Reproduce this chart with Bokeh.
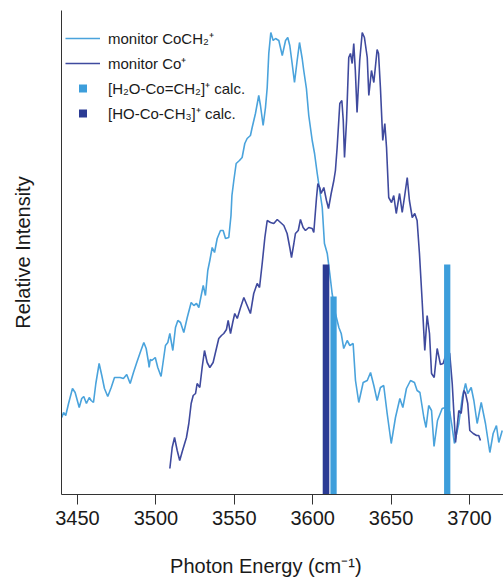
import numpy as np
from bokeh.plotting import figure
from bokeh.models import Range1d, FixedTicker, Legend, LegendItem
from bokeh.embed import file_html
from bokeh.resources import INLINE

# ---- data ----
light_x = [3440.0, 3441.1, 3442.5, 3444.3, 3446.8, 3448.5, 3451.1, 3452.7, 3454.0, 3455.7,
           3457.5, 3458.7, 3460.2, 3461.7, 3463.8, 3465.5, 3467.2, 3469.3, 3471.5, 3473.6,
           3477.2, 3479.3, 3481.4, 3483.6, 3485.7, 3487.8, 3490.0, 3492.3, 3493.8, 3495.3,
           3495.7, 3496.4, 3497.4, 3499.6, 3501.2, 3503.3, 3506.1, 3507.6, 3508.9, 3510.8,
           3512.5, 3514.0, 3515.7, 3517.8, 3520.0, 3522.5, 3524.2, 3525.9, 3527.4, 3528.9,
           3530.2, 3531.6, 3533.1, 3534.4, 3535.9, 3537.4, 3539.1, 3541.2, 3542.9, 3544.4,
           3546.5, 3547.9, 3548.5, 3549.7, 3551.2, 3553.3, 3555.0, 3556.7, 3558.2, 3560.3,
           3561.4, 3563.5, 3565.6, 3566.7, 3568.4, 3569.9, 3571.0, 3572.0, 3573.3, 3574.8,
           3576.3, 3578.4, 3580.6, 3582.7, 3584.1, 3585.4, 3586.9, 3588.4, 3590.1, 3591.6,
           3593.3, 3594.3, 3596.0, 3597.5, 3599.7, 3601.2, 3602.9, 3604.5, 3606.1, 3607.5,
           3609.3, 3610.9, 3612.4, 3614.5, 3616.7, 3618.2, 3619.8, 3622.0, 3623.7, 3625.8,
           3627.3, 3629.4, 3632.2, 3634.8, 3636.9, 3639.0, 3641.1, 3643.2, 3645.3, 3647.5,
           3650.1, 3652.8, 3655.6, 3657.5, 3659.8, 3662.4, 3664.9, 3666.6, 3668.4, 3670.9,
           3672.3, 3674.0, 3675.8, 3677.4, 3679.6, 3682.6, 3684.7, 3687.4, 3688.8, 3690.4,
           3693.2, 3695.4, 3697.5, 3698.9, 3701.1, 3702.8, 3704.9, 3707.5, 3710.2, 3713.0,
           3715.1, 3717.2, 3718.7, 3720.9]
light_y = [77, 82, 79, 91, 106, 102, 87, 96, 98, 91,
           97, 94, 92, 111, 131, 119, 106, 98, 107, 117,
           117, 116, 120, 111, 122, 132, 142, 152, 146, 132,
           127, 135, 134, 137, 127, 118, 149, 152, 161, 144,
           167, 174, 172, 162, 177, 192, 189, 191, 187, 199,
           209, 199, 224, 234, 247, 242, 256, 264, 264, 256,
           257, 279, 299, 314, 331, 334, 337, 351, 356, 359,
           367, 381, 399, 389, 369, 387, 407, 441, 462, 454,
           456, 454, 439, 454, 457, 449, 431, 412, 434, 452,
           436, 424, 406, 379, 354, 341, 321, 304, 287, 251,
           241, 221, 201, 181, 167, 161, 146, 154, 149, 151,
           114, 92, 112, 114, 122, 109, 94, 107, 109, 81,
           51, 77, 96, 87, 106, 114, 112, 104, 102, 77,
           67, 89, 84, 48, 74, 86, 87, 83, 69, 51,
           71, 97, 111, 101, 107, 94, 71, 92, 71, 42,
           61, 69, 52, 64]

dark_x = [3508.9, 3510.4, 3511.9, 3513.6, 3515.2, 3517.0, 3519.5, 3521.0, 3522.5, 3523.8,
          3525.3, 3526.3, 3528.0, 3529.5, 3531.0, 3532.7, 3534.4, 3536.5, 3538.0, 3540.1,
          3541.8, 3543.3, 3545.0, 3546.1, 3547.6, 3549.0, 3550.3, 3551.9, 3554.0, 3556.1,
          3558.2, 3560.3, 3562.4, 3564.6, 3566.1, 3567.8, 3569.5, 3571.0, 3573.1, 3575.2,
          3577.4, 3579.5, 3581.6, 3583.7, 3585.4, 3586.5, 3588.0, 3589.0, 3590.8, 3592.2,
          3593.9, 3595.4, 3597.5, 3599.7, 3600.7, 3602.4, 3603.3, 3604.5, 3605.4, 3607.1,
          3608.8, 3610.1, 3611.8, 3613.5, 3614.5, 3615.6, 3617.3, 3618.6, 3619.5, 3620.3,
          3621.6, 3623.0, 3624.1, 3625.2, 3626.2, 3627.2, 3628.3, 3630.0, 3631.6, 3633.0,
          3634.8, 3635.8, 3637.5, 3639.0, 3641.1, 3642.0, 3643.2, 3644.7, 3646.0, 3647.1,
          3648.5, 3650.3, 3651.7, 3653.3, 3655.4, 3657.1, 3658.7, 3660.3, 3661.7, 3663.5,
          3665.1, 3666.6, 3668.1, 3669.8, 3671.5, 3673.0, 3674.5, 3675.8, 3677.5, 3679.4,
          3681.5, 3683.2, 3685.8, 3687.4, 3689.0, 3691.1, 3693.2, 3694.7, 3696.4, 3697.5,
          3698.9, 3700.2, 3702.4, 3704.5, 3705.9, 3707.0]
dark_y = [26, 47, 57, 44, 34, 44, 57, 71, 91, 99,
          101, 111, 107, 127, 144, 132, 127, 132, 142, 156,
          159, 161, 165, 174, 161, 172, 181, 176, 187, 197,
          189, 181, 201, 211, 207, 231, 257, 274, 272, 271,
          275, 272, 269, 261, 247, 237, 251, 261, 264, 275,
          267, 264, 267, 266, 262, 296, 311, 307, 301, 307,
          294, 286, 301, 314, 324, 347, 391, 394, 374, 337,
          374, 437, 441, 431, 451, 424, 382, 434, 462, 457,
          437, 399, 424, 412, 445, 441, 407, 354, 371, 347,
          297, 292, 299, 281, 301, 282, 299, 317, 294, 277,
          281, 274, 241, 194, 144, 179, 161, 121, 117, 146,
          130, 131, 144, 141, 111, 52, 84, 81, 104, 101,
          91, 64, 61, 59, 59, 54]

calc_h2o_x = [3613.3, 3685.8]
calc_h2o_y = [198, 230]
calc_ho_x = [3608.5]
calc_ho_y = [230]

x_ticks = [3450, 3500, 3550, 3600, 3650, 3700]

LIGHT = "#4aa3dc"
LIGHT_BAR = "#3d9edb"
DARK = "#3f4a9e"
DARK_BAR = "#2b3b94"
FONT = "Liberation Sans"

p = figure(width=503, height=580, output_backend="svg", toolbar_location=None,
           x_range=Range1d(3439.8, 3721.7), y_range=Range1d(0, 484),
           min_border_left=61, min_border_right=0, min_border_top=10, min_border_bottom=86)
p.outline_line_color = None
p.xgrid.visible = False
p.ygrid.visible = False
p.background_fill_color = "white"
p.border_fill_color = "white"

l1 = p.line(light_x, light_y, line_color=LIGHT, line_width=1.6)
l2 = p.line(dark_x, dark_y, line_color=DARK, line_width=1.6)
b1 = p.vbar(x=calc_h2o_x, top=calc_h2o_y, bottom=0, width=4.0, fill_color=LIGHT_BAR, line_color=None)
b2 = p.vbar(x=calc_ho_x, top=calc_ho_y, bottom=0, width=4.2, fill_color=DARK_BAR, line_color=None)

# legend proxies: a single NaN point each, so only the legend swatch is drawn
s1 = p.scatter(x=np.array([np.nan]), y=np.array([np.nan]), marker="square", size=6,
               fill_color=LIGHT_BAR, line_color=None)
s2 = p.scatter(x=np.array([np.nan]), y=np.array([np.nan]), marker="square", size=6,
               fill_color=DARK_BAR, line_color=None)

xa = p.xaxis[0]
xa.ticker = FixedTicker(ticks=x_ticks)
xa.minor_tick_line_color = None
xa.major_tick_out = 10
xa.major_tick_in = 0
xa.major_label_standoff = 6
xa.major_label_text_font = FONT
xa.major_label_text_font_size = "20px"
xa.major_label_text_color = "#1a1a1a"
xa.axis_line_color = "#333333"
xa.major_tick_line_color = "#333333"
# trailing no-break spaces move the centred title a little left, as in the reference
xa.axis_label = "Photon Energy (cm\u207b\u00b9)" + "\u00a0" * 6
xa.axis_label_text_font = FONT
xa.axis_label_text_font_size = "20px"
xa.axis_label_text_font_style = "normal"
xa.axis_label_text_color = "#1a1a1a"
xa.axis_label_standoff = 27

ya = p.yaxis[0]
ya.ticker = FixedTicker(ticks=[])
ya.minor_tick_line_color = None
ya.major_tick_line_color = None
ya.major_label_standoff = 0
ya.axis_label = "Relative Intensity"
ya.axis_label_text_font = FONT
ya.axis_label_text_font_size = "20px"
ya.axis_label_text_font_style = "normal"
ya.axis_label_text_color = "#1a1a1a"
ya.axis_label_standoff = 28
ya.axis_line_color = "#333333"

legend = Legend(items=[
    LegendItem(label="monitor CoCH\u2082\u207a", renderers=[l1]),
    LegendItem(label="monitor Co\u207a", renderers=[l2]),
    LegendItem(label="[H\u2082O-Co=CH\u2082]\u207a calc.", renderers=[s1]),
    LegendItem(label="[HO-Co-CH\u2083]\u207a calc.", renderers=[s2]),
], location=(4, 371), margin=0, padding=0, spacing=5,
   glyph_width=35, glyph_height=20, label_height=20, label_standoff=8,
   label_text_font=FONT, label_text_font_size="15px", label_text_color="#1a1a1a",
   border_line_color=None, background_fill_alpha=0)
p.add_layout(legend)

open("out.html", "w").write(file_html(p, INLINE))
